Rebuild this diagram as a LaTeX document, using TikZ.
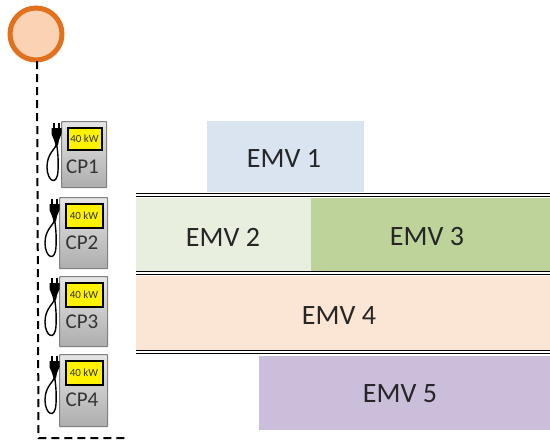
\documentclass[tikz,border=0pt]{standalone}
\usepackage{fontspec}
\setmainfont{Carlito}
\definecolor{emvblue}{HTML}{DAE3F0}
\definecolor{emvlgreen}{HTML}{E8EFDE}
\definecolor{emvgreen}{HTML}{BDD39A}
\definecolor{emvorange}{HTML}{FBE6D6}
\definecolor{emvpurple}{HTML}{CBBEDA}
\definecolor{ringorange}{HTML}{E2701C}
\definecolor{ringfill}{HTML}{FBD2B4}
\tikzset{
  emvbox/.style={draw=none,anchor=north west,inner sep=0pt},
  emvtext/.style={font=\fontsize{28}{30}\selectfont,text=black!85,inner sep=0pt},
  cpbody/.style={draw=black!50,line width=1.2pt,top color=black!10,bottom color=black!32,rounded corners=0.8pt,anchor=north west,inner sep=0pt},
  cpscreen/.style={draw=black,line width=2pt,fill=yellow,anchor=north west,inner sep=0pt,font=\fontsize{11}{12}\selectfont,text=black!80},
  cplabel/.style={font=\fontsize{21}{22}\selectfont,text=black!80,inner sep=0pt},
  rail/.style={line width=1pt,black},
  feeder/.style={line width=2pt,black,dash pattern=on 8pt off 5pt},
  cordline/.style={line width=1.4pt,black},
}
% #1 name, #2 x, #3 y, #4 w, #5 h, #6 label, #7 screen height
\newcommand{\chargerunit}[7]{
  \node[cpbody,minimum width=#4pt,minimum height=#5pt] (#1) at (#2,#3) {};
  \node[cpscreen,minimum width={(#4-11)*1pt},minimum height=#7pt] (#1s) at (#2+5.5,#3+6) {40 kW};
  \node[cplabel] (#1l) at (#2+#4/2-1,#3+46) {#6};
  \draw[cordline] (#2-4,#3+22) .. controls (#2-5,#3+28) and (#2-14,#3+32) .. (#2-14,#3+46) .. controls (#2-14,#3+60) and (#2-4,#3+66) .. (#2-3,#3+50) .. controls (#2-2.5,#3+40) and (#2-3,#3+32) .. (#2-4.5,#3+22);
  \fill[black] (#2-9.5,#3+7) -- (#2+0.5,#3+7) -- (#2+0.5,#3+13) -- (#2-2,#3+19) -- (#2-3,#3+24) -- (#2-5.5,#3+24) -- (#2-7,#3+19) -- (#2-9.5,#3+13) -- cycle;
  \fill[black] (#2-8,#3+2) rectangle (#2-5.6,#3+8);
  \fill[black] (#2-3.4,#3+2) rectangle (#2-1,#3+8);
}
\begin{document}
\begin{tikzpicture}[x=1pt,y=-1pt]
\useasboundingbox (0,0) rectangle (550,448);
\fill[white] (0,0) rectangle (550,448);
% schedule blocks
\node[emvbox,fill=emvblue,minimum width=157pt,minimum height=71pt] (e1) at (207,121) {};
\node[emvtext] (e1t) at (284,158) {EMV 1};
\node[emvbox,fill=emvlgreen,minimum width=175pt,minimum height=73pt] (e2) at (136,198) {};
\node[emvtext] (e2t) at (223,237) {EMV 2};
\node[emvbox,fill=emvgreen,minimum width=239pt,minimum height=73pt] (e3) at (311,198) {};
\node[emvtext] (e3t) at (427,237) {EMV 3};
\node[emvbox,fill=emvorange,minimum width=414pt,minimum height=74pt] (e4) at (136,276) {};
\node[emvtext] (e4t) at (339,316) {EMV 4};
\node[emvbox,fill=emvpurple,minimum width=291pt,minimum height=74pt] (e5) at (259,356) {};
\node[emvtext] (e5t) at (400,394) {EMV 5};
% double rails
\foreach \n/\y in {a/195,b/273,c/352}{
  \coordinate (r\n l) at (136,\y);
  \coordinate (r\n r) at (550,\y);
  \draw[rail] ([yshift=-1.5pt]r\n l) -- ([yshift=-1.5pt]r\n r);
  \draw[rail] ([yshift=1.2pt]r\n l) -- ([yshift=1.2pt]r\n r);
}
% source and feeder
\node[circle,draw=ringorange,line width=5pt,fill=ringfill,minimum size=52pt,inner sep=0pt] (src) at (36,34) {};
\coordinate (corner) at (38.5,438);
\coordinate (feedend) at (127,438);
\draw[feeder] (37,61) -- (corner) -- (feedend);
% chargers
\chargerunit{cpa}{61}{121}{45}{66}{CP1}{22}
\chargerunit{cpb}{59}{197}{48}{71}{CP2}{24}
\chargerunit{cpc}{59}{276}{48}{70}{CP3}{24}
\chargerunit{cpd}{59}{354}{48}{72}{CP4}{24}
\end{tikzpicture}
\end{document}
